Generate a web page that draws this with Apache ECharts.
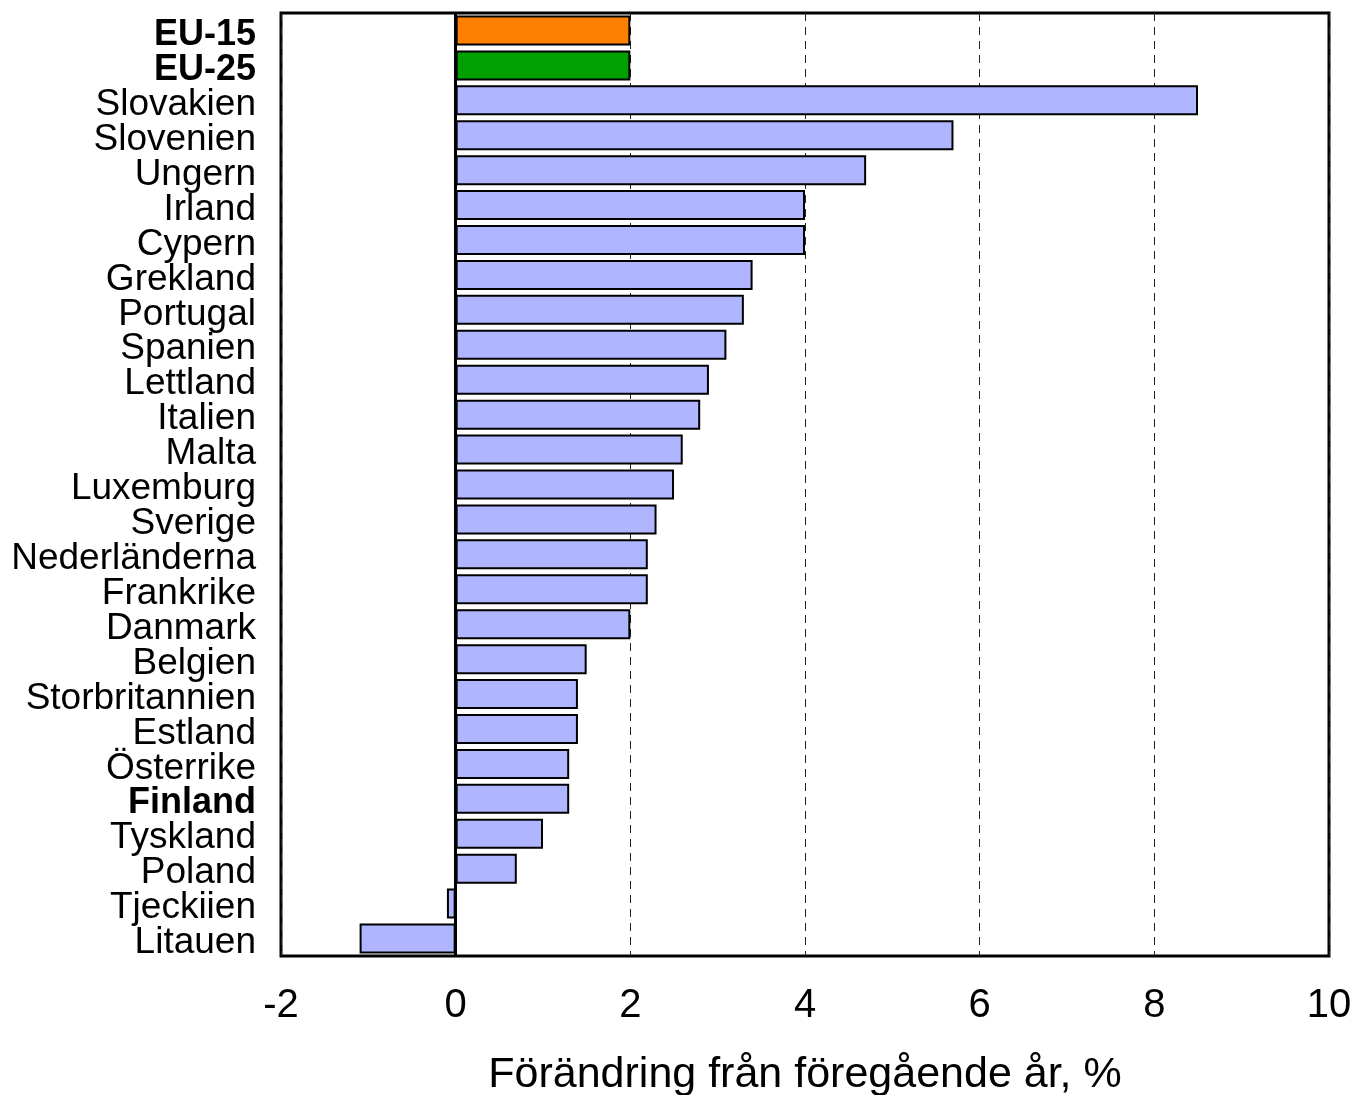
<!DOCTYPE html>
<html>
<head>
<meta charset="utf-8">
<script src="https://cdn.jsdelivr.net/npm/echarts@6/dist/echarts.min.js"></script>
<style>html,body{margin:0;padding:0;background:#fff;}#c{width:1357px;height:1095px;}</style>
</head>
<body>
<div id="c"></div>
<script>
const categories = ["EU-15","EU-25","Slovakien","Slovenien","Ungern","Irland","Cypern","Grekland","Portugal","Spanien","Lettland","Italien","Malta","Luxemburg","Sverige","Nederländerna","Frankrike","Danmark","Belgien","Storbritannien","Estland","Österrike","Finland","Tyskland","Poland","Tjeckiien","Litauen"];
const values = [2.0,2.0,8.5,5.7,4.7,4.0,4.0,3.4,3.3,3.1,2.9,2.8,2.6,2.5,2.3,2.2,2.2,2.0,1.5,1.4,1.4,1.3,1.3,1.0,0.7,-0.1,-1.1];
const boldLabels = ["EU-15","EU-25","Finland"];
const specialColors = {"EU-15":"#ff8000","EU-25":"#00a000"};
const defaultColor = "#b0b5ff";
const xTicks = {min:-2, max:10, interval:2};
const xTitle = "Förändring från föregående år, %";

const FONT = "'Liberation Sans', Arial, Helvetica, sans-serif";
const chart = echarts.init(document.getElementById('c'), null, {renderer:'canvas'});
const data = categories.map((c,i)=>({value:values[i], itemStyle:{color: specialColors[c] || defaultColor}}));
chart.setOption({
  animation:false,
  grid:{left:281,right:28,top:13,bottom:139,containLabel:false,outerBoundsMode:'none',show:true,borderColor:'#000',borderWidth:3,backgroundColor:'transparent'},
  xAxis:{
    type:'value', min:xTicks.min, max:xTicks.max, interval:xTicks.interval,
    name:xTitle, nameLocation:'middle', nameGap:98,
    nameTextStyle:{fontFamily:FONT,fontSize:43,color:'#000'},
    axisLine:{show:false}, axisTick:{show:false},
    axisLabel:{fontFamily:FONT,fontSize:40,color:'#000',margin:30,hideOverlap:false},
    splitLine:{show:true,lineStyle:{color:'#222',width:1,type:[8,6]}}
  },
  yAxis:{
    type:'category', data:categories, inverse:true,
    axisLine:{show:false}, axisTick:{show:false},
    axisLabel:{
      interval:0, hideOverlap:false,
      margin:25, color:'#000', fontFamily:FONT, fontSize:37,
      padding:[9,0,0,0],
      formatter:(v)=> boldLabels.includes(v) ? '{b|'+v+'}' : v,
      rich:{b:{fontFamily:FONT,fontSize:36,fontWeight:'bold',color:'#000'}}
    },
    splitLine:{show:false}
  },
  series:[{
    type:'bar', data:data, barWidth:30,
    itemStyle:{borderColor:'#000',borderWidth:2},
    markLine:{silent:true,symbol:'none',label:{show:false},
      lineStyle:{color:'#000',width:3,type:'solid'},
      data:[{xAxis:0}]}
  }]
});
</script>
</body>
</html>
